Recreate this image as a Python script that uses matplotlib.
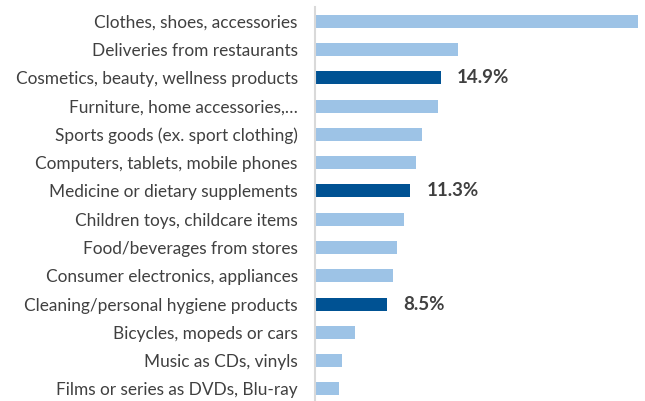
import matplotlib
matplotlib.use("Agg")
import matplotlib.pyplot as plt

# ============================================================
# Data (top to bottom)
# ============================================================
categories = [
    "Clothes, shoes, accessories",
    "Deliveries from restaurants",
    "Cosmetics, beauty, wellness products",
    "Furniture, home accessories,\u2026",
    "Sports goods (ex. sport clothing)",
    "Computers, tablets, mobile phones",
    "Medicine or dietary supplements",
    "Children toys, childcare items",
    "Food/beverages from stores",
    "Consumer electronics, appliances",
    "Cleaning/personal hygiene products",
    "Bicycles, mopeds or cars",
    "Music as CDs, vinyls",
    "Films or series as DVDs, Blu-ray",
]
values = [38.1, 16.9, 14.9, 14.6, 12.7, 12.0, 11.3, 10.5, 9.7, 9.2, 8.5, 4.8, 3.2, 2.9]
highlight = [False, False, True, False, False, False, True, False, False, False, True, False, False, False]

light_blue = "#9DC3E6"
dark_blue = "#005293"
text_gray = "#404040"

plt.rcParams['font.family'] = ['Lato', 'DejaVu Sans']

fig = plt.figure(figsize=(6.45, 4.01), dpi=100)
ax = fig.add_axes([314.5 / 645, -0.005, (641.4 - 314.5) / 645, 0.987])

y = list(range(len(categories)))
colors = [dark_blue if h else light_blue for h in highlight]
ax.barh(y, values, height=0.46, color=colors)

for yi, v, h in zip(y, values, highlight):
    if h:
        ax.text(v + 1.9, yi, f"{v:.1f}%", va="center", ha="left",
                fontsize=13.5, fontweight="bold", color=text_gray)

ax.set_yticks(y)
ax.set_yticklabels(categories, fontsize=12.4, color=text_gray)
ax.tick_params(axis="y", length=0, pad=12)
ax.set_xticks([])
ax.set_xlim(0, 38.5)
ax.set_ylim(len(categories) - 0.5, -0.5)

for side in ["top", "right", "bottom"]:
    ax.spines[side].set_visible(False)
ax.spines["left"].set_color("#D9D9D9")
ax.spines["left"].set_linewidth(1.5)

fig.savefig("out.png", dpi=100)
